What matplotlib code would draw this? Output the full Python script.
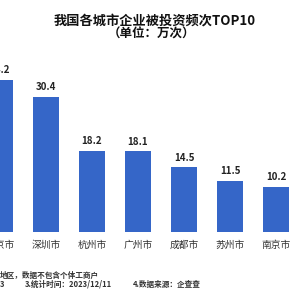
import matplotlib
matplotlib.use('Agg')
import matplotlib.pyplot as plt

plt.rcParams['font.family'] = ['Noto Sans CJK SC', 'DejaVu Sans']

cities = ['北京市', '深圳市', '杭州市', '广州市', '成都市', '苏州市', '南京市']
values = [34.2, 30.4, 18.2, 18.1, 14.5, 11.5, 10.2]

fig = plt.figure(figsize=(3, 3), dpi=100)
fig.patch.set_facecolor('white')
ax = fig.add_axes([0, 0.2267, 1, 0.5733])

x = list(range(len(cities)))
bars = ax.bar(x, values, width=0.56, color='#3566c8')
for xi, v in zip(x, values):
    ax.annotate(f'{v}', (xi, v), xytext=(0, 3.5), textcoords='offset points',
                ha='center', va='bottom', fontsize=7, fontweight='bold', color='#222222')

ax.set_xlim(0.026, 6.52)
ax.set_ylim(0, 38.65)
ax.set_xticks(x)
ax.set_xticklabels(cities, fontsize=7, color='#333333')
ax.tick_params(axis='x', length=0, pad=6)
ax.set_yticks([])
for s in ax.spines.values():
    s.set_visible(False)

fig.text(0.515, 0.933, '我国各城市企业被投资频次TOP10', ha='center', va='center',
         fontsize=9.5, fontweight='bold', color='#111111')
fig.text(0.505, 0.887, '（单位：万次）', ha='center', va='center',
         fontsize=9, fontweight='bold', color='#111111')

fig.text(0.0, 0.083, '地区，数据不包含个体工商户', ha='left', va='center',
         fontsize=5.5, fontweight='bold', color='#333333')
fig.text(0.0, 0.053, '3', ha='left', va='center',
         fontsize=5.5, fontweight='bold', color='#333333')
fig.text(0.083, 0.053, '3.统计时间：2023/12/11', ha='left', va='center',
         fontsize=5.5, fontweight='bold', color='#333333')
fig.text(0.443, 0.053, '4.数据来源：企查查', ha='left', va='center',
         fontsize=5.5, fontweight='bold', color='#333333')

fig.savefig('out.png', dpi=100)
